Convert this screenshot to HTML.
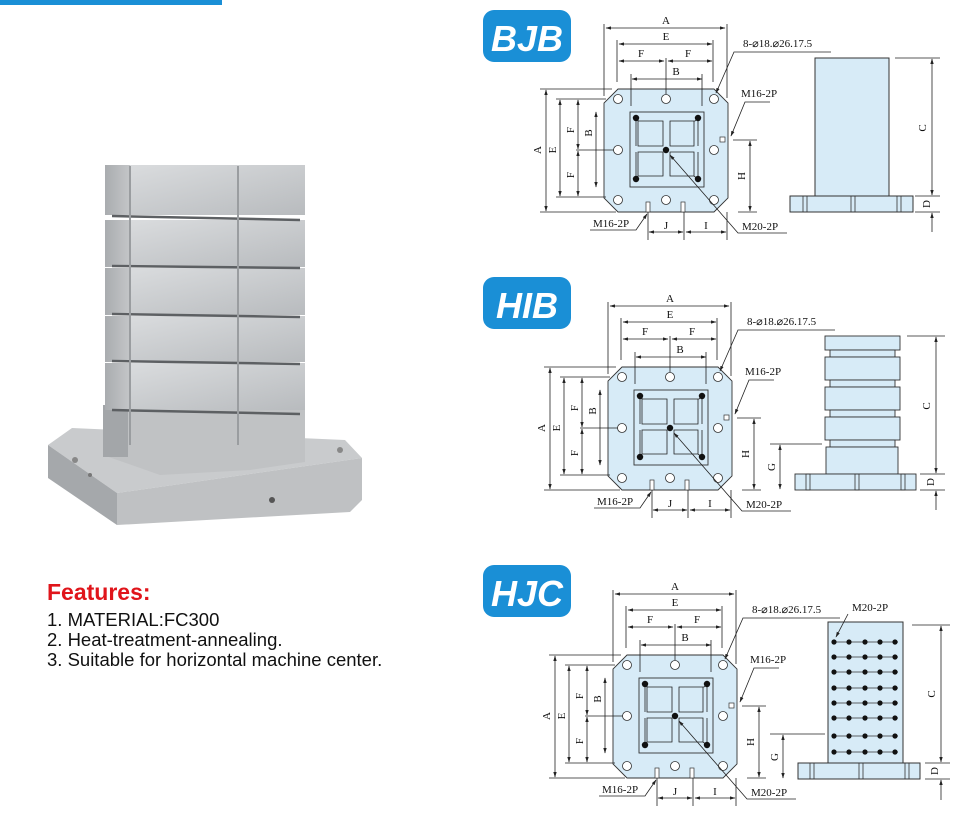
<!DOCTYPE html>
<html><head><meta charset="utf-8"><style>
html,body{margin:0;padding:0;background:#fff;width:969px;height:833px;overflow:hidden}
svg{display:block}
.t{font-family:"Liberation Serif",serif;font-size:11px;fill:#111}
.l{stroke:#222;stroke-width:0.8;fill:none}
.a{stroke:#222;stroke-width:0.8;fill:none;marker-start:url(#ar);marker-end:url(#ar)}
.b{font-family:"Liberation Sans",sans-serif;font-weight:bold;font-style:italic;font-size:36px;fill:#fff}
</style></head><body>
<svg width="969" height="833" viewBox="0 0 969 833" xmlns="http://www.w3.org/2000/svg">
<defs>
<marker id="ar" viewBox="0 0 10 10" refX="9" refY="5" markerWidth="7" markerHeight="7" orient="auto-start-reverse"><path d="M0,2 L10,5 L0,8 Z" fill="#222"/></marker>
<marker id="ae" viewBox="0 0 10 10" refX="9" refY="5" markerWidth="7" markerHeight="7" orient="auto"><path d="M0,2 L10,5 L0,8 Z" fill="#222"/></marker>
<linearGradient id="gf" x1="0" y1="0" x2="1" y2="1"><stop offset="0" stop-color="#dcdee0"/><stop offset="1" stop-color="#b8bbbe"/></linearGradient>
<linearGradient id="gl" x1="0" y1="0" x2="1" y2="0"><stop offset="0" stop-color="#a9acaf"/><stop offset="1" stop-color="#c4c6c8"/></linearGradient>
<g id="plan">
<polygon points="618,89 714,89 728,103 728,198 714,212 618,212 604,198 604,103" fill="#d7ebf7" stroke="#333" stroke-width="0.9"/>
<rect x="630" y="112" width="74" height="75" fill="none" stroke="#333" stroke-width="0.9"/>
<polyline points="636,118 638,118 638,121 663,121 663,146 638,146 638,121" class="l"/>
<polyline points="698,118 695,121 670,121 670,146 694,146 694,121" class="l"/>
<polyline points="636,179 638,176 638,152 663,152 663,176 638,176" class="l"/>
<polyline points="698,179 694,176 670,176 670,152 694,152 694,176" class="l"/>
<polyline points="636,118 636,146" class="l"/><polyline points="636,152 636,179" class="l"/>
<polyline points="698,118 698,146" class="l"/><polyline points="698,152 698,179" class="l"/>
<g fill="#111"><circle cx="636" cy="118" r="3.2"/><circle cx="698" cy="118" r="3.2"/><circle cx="636" cy="179" r="3.2"/><circle cx="698" cy="179" r="3.2"/><circle cx="666" cy="150" r="3.2"/></g>
<g fill="#fff" stroke="#333" stroke-width="0.8"><circle cx="618" cy="99" r="4.5"/><circle cx="666" cy="99" r="4.5"/><circle cx="714" cy="99" r="4.5"/><circle cx="618" cy="150" r="4.5"/><circle cx="714" cy="150" r="4.5"/><circle cx="618" cy="200" r="4.5"/><circle cx="666" cy="200" r="4.5"/><circle cx="714" cy="200" r="4.5"/></g>
<rect x="720" y="137" width="5" height="5" fill="#fff" stroke="#333" stroke-width="0.7"/>
<rect x="646" y="202" width="4" height="10" fill="#fff" stroke="#333" stroke-width="0.7"/>
<rect x="681" y="202" width="4" height="10" fill="#fff" stroke="#333" stroke-width="0.7"/>
<path class="l" d="M604,24V96 M727,24V98 M617,40V82 M713,40V82 M631,74V106 M702,74V106 M666,58V94 M540,89H612 M556,99H606 M556,197H606 M540,212H616 M576,150H614 M733,140H757 M738,212H757 M648,212V240 M684,212V240 M727,212V240"/>
<line class="a" x1="606" y1="28" x2="725" y2="28"/>
<line class="a" x1="619" y1="44" x2="712" y2="44"/>
<line class="a" x1="619" y1="61" x2="664" y2="61"/><line class="a" x1="668" y1="61" x2="712" y2="61"/>
<line class="a" x1="632" y1="79" x2="702" y2="79"/>
<line class="a" x1="546" y1="90" x2="546" y2="211"/>
<line class="a" x1="560" y1="100" x2="560" y2="196"/>
<line class="a" x1="578" y1="100" x2="578" y2="149"/><line class="a" x1="578" y1="151" x2="578" y2="196"/>
<line class="a" x1="596" y1="112" x2="596" y2="187"/>
<line class="a" x1="750" y1="141" x2="750" y2="211"/>
<line class="a" x1="649" y1="232" x2="683" y2="232"/><line class="a" x1="686" y1="232" x2="726" y2="232"/>
<path class="l" d="M831,52H734L716,93" marker-end="url(#ae)"/>
<path class="l" d="M770,102H745L731,136" marker-end="url(#ae)"/>
<path class="l" d="M590,230H636L647,214" marker-end="url(#ae)"/>
<path class="l" d="M787,233H738L670,155" marker-end="url(#ae)"/>
</g>
<g id="lbl" class="t">
<text x="666" y="24" text-anchor="middle">A</text>
<text x="666" y="40" text-anchor="middle">E</text>
<text x="641" y="57" text-anchor="middle">F</text><text x="688" y="57" text-anchor="middle">F</text>
<text x="676" y="75" text-anchor="middle">B</text>
<text x="743" y="47">8-⌀18.⌀26.17.5</text>
<text x="741" y="97">M16-2P</text>
<text x="593" y="227">M16-2P</text>
<text x="742" y="230">M20-2P</text>
<text x="666" y="229" text-anchor="middle">J</text><text x="706" y="229" text-anchor="middle">I</text>
<text transform="translate(541,150) rotate(-90)" text-anchor="middle">A</text>
<text transform="translate(556,150) rotate(-90)" text-anchor="middle">E</text>
<text transform="translate(574,130) rotate(-90)" text-anchor="middle">F</text>
<text transform="translate(574,175) rotate(-90)" text-anchor="middle">F</text>
<text transform="translate(592,133) rotate(-90)" text-anchor="middle">B</text>
<text transform="translate(745,176) rotate(-90)" text-anchor="middle">H</text>
</g>
</defs>
<rect x="0" y="0" width="222" height="5" fill="#1a8fd6"/>

<!-- photo -->
<g>
<polygon points="48,445 72,428 345,440 362,458 117,493" fill="#c9cbcd"/>
<polygon points="48,445 117,493 117,525 48,478" fill="#a5a8ab"/>
<polygon points="117,493 362,458 362,500 350,512 117,525" fill="#bfc1c3"/>
<circle cx="272" cy="500" r="3" fill="#555"/><circle cx="90" cy="475" r="2" fill="#777"/>
<circle cx="75" cy="460" r="3" fill="#888"/><circle cx="340" cy="450" r="3" fill="#888"/>
<polygon points="103,405 305,405 305,462 250,470 160,475 103,455" fill="#c0c2c4"/>
<rect x="103" y="405" width="25" height="52" fill="#a3a6a9"/>
<g>
<rect x="105" y="165" width="200" height="50" fill="url(#gf)"/><rect x="105" y="165" width="25" height="50" fill="url(#gl)"/>
<rect x="105" y="220" width="200" height="47" fill="url(#gf)"/><rect x="105" y="220" width="25" height="47" fill="url(#gl)"/>
<rect x="105" y="268" width="200" height="47" fill="url(#gf)"/><rect x="105" y="268" width="25" height="47" fill="url(#gl)"/>
<rect x="105" y="316" width="200" height="46" fill="url(#gf)"/><rect x="105" y="316" width="25" height="46" fill="url(#gl)"/>
<rect x="105" y="363" width="200" height="47" fill="url(#gf)"/><rect x="105" y="363" width="25" height="47" fill="url(#gl)"/>
</g>
<g stroke="#5d6063" stroke-width="2.5">
<line x1="112" y1="216" x2="300" y2="220"/><line x1="112" y1="266" x2="300" y2="268"/><line x1="112" y1="314" x2="300" y2="317"/><line x1="112" y1="361" x2="300" y2="364"/><line x1="112" y1="410" x2="300" y2="414"/>
</g>
<g stroke="#9a9da0" stroke-width="2"><line x1="238" y1="166" x2="238" y2="445"/><line x1="130" y1="166" x2="130" y2="445"/></g>
</g>

<!-- features -->
<text x="47" y="600" font-family="Liberation Sans,sans-serif" font-weight="bold" font-size="23" fill="#e0151b">Features:</text>
<g font-family="Liberation Sans,sans-serif" font-size="18.5" fill="#111">
<text x="47" y="626">1. MATERIAL:FC300</text>
<text x="47" y="646">2. Heat-treatment-annealing.</text>
<text x="47" y="666">3. Suitable for horizontal machine center.</text>
</g>

<!-- badges -->
<rect x="483" y="10" width="88" height="52" rx="11" fill="#1a8fd6"/><text x="527" y="51" text-anchor="middle" class="b">BJB</text>
<rect x="483" y="277" width="88" height="52" rx="11" fill="#1a8fd6"/><text x="527" y="318" text-anchor="middle" class="b">HIB</text>
<rect x="483" y="565" width="88" height="52" rx="11" fill="#1a8fd6"/><text x="527" y="606" text-anchor="middle" class="b">HJC</text>

<use href="#plan"/><use href="#lbl"/>
<g transform="translate(4,278)"><use href="#plan"/><use href="#lbl"/></g>
<g transform="translate(9,566)"><use href="#plan"/><use href="#lbl"/></g>

<!-- BJB side -->
<rect x="815" y="58" width="74" height="138" fill="#d7ebf7" stroke="#333"/>
<rect x="790" y="196" width="123" height="16" fill="#d7ebf7" stroke="#333"/>
<g fill="none" stroke="#333" stroke-width="0.8"><rect x="803" y="196" width="4" height="16"/><rect x="851" y="196" width="4" height="16"/><rect x="897" y="196" width="4" height="16"/></g>
<path class="l" d="M895,58H940 M915,196H940 M915,212H940"/>
<line class="a" x1="932" y1="59" x2="932" y2="195"/>
<line class="l" x1="932" y1="232" x2="932" y2="213" marker-end="url(#ae)"/>
<text class="t" transform="translate(926,128) rotate(-90)" text-anchor="middle">C</text>
<text class="t" transform="translate(930,204) rotate(-90)" text-anchor="middle">D</text>

<!-- HIB side -->
<g fill="#d7ebf7" stroke="#333" stroke-width="0.9">
<rect x="825" y="336" width="75" height="14"/><rect x="830" y="350" width="65" height="7"/>
<rect x="825" y="357" width="75" height="23"/><rect x="830" y="380" width="65" height="7"/>
<rect x="825" y="387" width="75" height="23"/><rect x="830" y="410" width="65" height="7"/>
<rect x="825" y="417" width="75" height="23"/><rect x="830" y="440" width="65" height="7"/>
<rect x="826" y="447" width="72" height="27"/>
<rect x="795" y="474" width="121" height="16"/>
</g>
<g fill="none" stroke="#333" stroke-width="0.8"><rect x="806" y="474" width="4" height="16"/><rect x="855" y="474" width="4" height="16"/><rect x="901" y="474" width="4" height="16"/></g>
<path class="l" d="M907,336H945 M920,474H945 M920,490H945 M770,444H822"/>
<line class="a" x1="936" y1="337" x2="936" y2="473"/>
<line class="l" x1="936" y1="510" x2="936" y2="491" marker-end="url(#ae)"/>
<line class="a" x1="780" y1="445" x2="780" y2="489"/>
<text class="t" transform="translate(930,406) rotate(-90)" text-anchor="middle">C</text>
<text class="t" transform="translate(934,482) rotate(-90)" text-anchor="middle">D</text>
<text class="t" transform="translate(775,467) rotate(-90)" text-anchor="middle">G</text>

<!-- HJC side -->
<rect x="828" y="622" width="75" height="141" fill="#d7ebf7" stroke="#333"/>
<rect x="798" y="763" width="122" height="16" fill="#d7ebf7" stroke="#333"/>
<g fill="none" stroke="#333" stroke-width="0.8"><rect x="810" y="763" width="4" height="16"/><rect x="859" y="763" width="4" height="16"/><rect x="905" y="763" width="4" height="16"/></g>
<g stroke="#333" stroke-width="0.8">
<line x1="832" y1="642" x2="898" y2="642"/><line x1="832" y1="657" x2="898" y2="657"/><line x1="832" y1="672" x2="898" y2="672"/><line x1="832" y1="688" x2="898" y2="688"/><line x1="832" y1="703" x2="898" y2="703"/><line x1="832" y1="718" x2="898" y2="718"/><line x1="832" y1="736" x2="898" y2="736"/><line x1="832" y1="752" x2="898" y2="752"/>
</g>
<g fill="#111">
<g id="dr"><circle cx="834" cy="642" r="2.6"/><circle cx="849" cy="642" r="2.6"/><circle cx="865" cy="642" r="2.6"/><circle cx="880" cy="642" r="2.6"/><circle cx="895" cy="642" r="2.6"/></g>
<use href="#dr" y="15"/><use href="#dr" y="30"/><use href="#dr" y="46"/><use href="#dr" y="61"/><use href="#dr" y="76"/><use href="#dr" y="94"/><use href="#dr" y="110"/>
</g>
<line class="l" x1="848" y1="614" x2="836" y2="637" marker-end="url(#ae)"/>
<text class="t" x="852" y="611">M20-2P</text>
<path class="l" d="M912,625H950 M925,763H950 M925,779H950 M770,734H825"/>
<line class="a" x1="941" y1="626" x2="941" y2="762"/>
<line class="l" x1="941" y1="800" x2="941" y2="780" marker-end="url(#ae)"/>
<line class="a" x1="783" y1="735" x2="783" y2="778"/>
<text class="t" transform="translate(935,694) rotate(-90)" text-anchor="middle">C</text>
<text class="t" transform="translate(938,771) rotate(-90)" text-anchor="middle">D</text>
<text class="t" transform="translate(778,757) rotate(-90)" text-anchor="middle">G</text>
</svg>
</body></html>
